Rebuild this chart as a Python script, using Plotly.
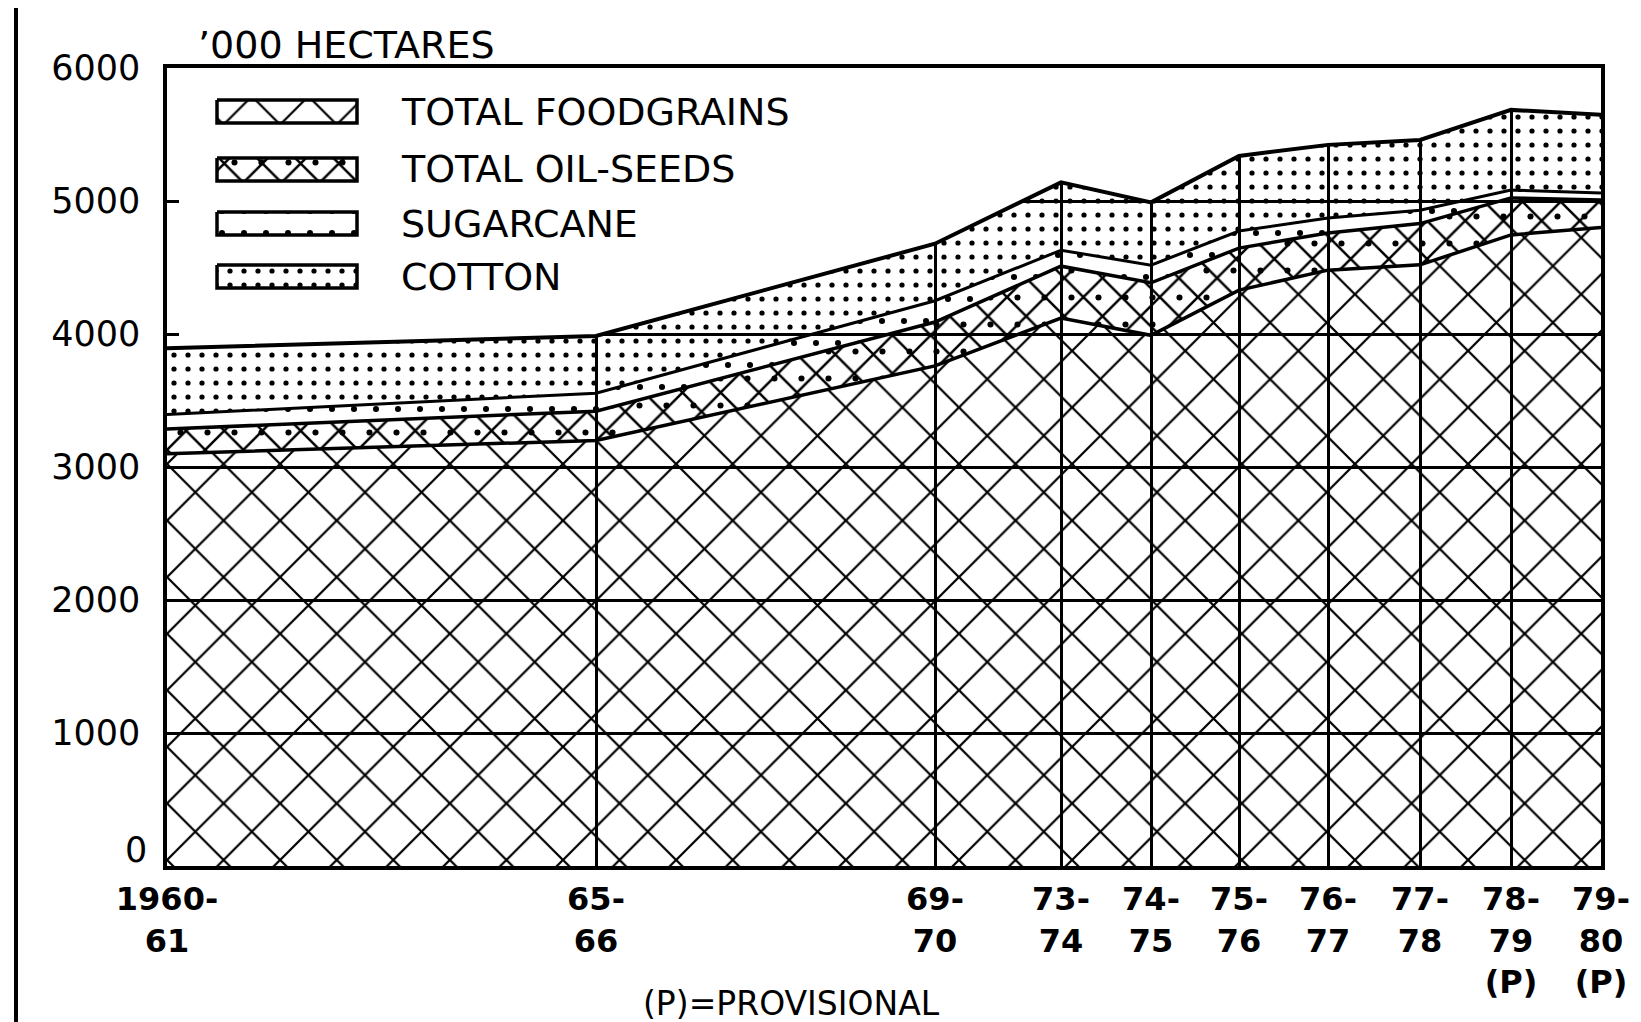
import numpy as np
import plotly.graph_objects as go

# ---------------- data ('000 hectares) ----------------
seasons = ["1960-<br>61", "65-<br>66", "69-<br>70", "73-<br>74", "74-<br>75",
           "75-<br>76", "76-<br>77", "77-<br>78", "78-<br>79<br>(P)", "79-<br>80<br>(P)"]
foodgrains = [3100, 3200, 3760, 4120, 3990, 4330, 4480, 4520, 4745, 4800]
oilseeds = [185, 220, 330, 390, 395, 316, 280, 310, 278, 208]
sugarcane = [110, 135, 160, 120, 133, 128, 112, 100, 60, 52]
cotton = [498, 430, 429, 510, 472, 565, 550, 529, 602, 588]
y_ticks = [0, 1000, 2000, 3000, 4000, 5000, 6000]
legend_labels = ["TOTAL FOODGRAINS", "TOTAL OIL-SEEDS", "SUGARCANE", "COTTON"]

# ---------------- layout helpers ----------------
# uneven horizontal spacing between seasons on the original drawing
season_gaps = [429, 339, 126, 90, 88, 89, 92, 91, 90]
x = np.concatenate([[0], np.cumsum(season_gaps)]).tolist()
y_max = y_ticks[-1]

# plot area in figure pixels
PL, PR, PT, PB = 159, 1593, 60, 858


def px(xp):
    return (xp - PL) / (PR - PL)


def py(yp):
    return (PB - yp) / (PB - PT)


c1 = np.array(foodgrains)
c2 = c1 + np.array(oilseeds)
c3 = c2 + np.array(sugarcane)
c4 = c3 + np.array(cotton)

FONT = "DejaVu Sans"
BLACK = "black"
CLEAR = "rgba(0,0,0,0)"

pat_fg = dict(shape="x", size=40, solidity=0.11, fgcolor=BLACK, bgcolor=CLEAR, fillmode="replace")
pat_os = dict(shape="x", size=27, solidity=0.18, fgcolor=BLACK, bgcolor=CLEAR, fillmode="replace")
pat_os_dot = dict(shape=".", size=27, solidity=0.04, fgcolor=BLACK, bgcolor=CLEAR, fillmode="replace")
pat_sc = dict(shape=".", size=22, solidity=0.06, fgcolor=BLACK, bgcolor=CLEAR, fillmode="replace")
pat_cot = dict(shape=".", size=14, solidity=0.11, fgcolor=BLACK, bgcolor=CLEAR, fillmode="replace")

fig = go.Figure()


def area(y, pattern=None, lw=3.0, fill="tonexty", fillcolor=CLEAR, name=None):
    tr = dict(x=x, y=list(y), mode="lines", line=dict(color=BLACK, width=lw),
              fill=fill, fillcolor=fillcolor, hoverinfo="skip", showlegend=False)
    if pattern is not None:
        tr["fillpattern"] = pattern
    if name:
        tr["name"] = name
    fig.add_trace(go.Scatter(**tr))


area([0] * len(x), lw=0, fill="none")
area(c1, pat_fg, lw=3.5, name="TOTAL FOODGRAINS")
area(c2, pat_os, lw=3.5, name="TOTAL OIL-SEEDS")
area(c1, lw=0, fill="none")
area(c2, pat_os_dot, lw=0)
area(c3, pat_sc, lw=3, name="SUGARCANE")
area(c4, pat_cot, lw=4, name="COTTON")
# white cover above the stacked areas (hides the grid there)
area([y_max] * len(x), lw=0, fillcolor="white")

# ---------------- hand-drawn style legend (pixel coordinates on overlay axes) ----------------
box_x0, box_x1 = 209, 349
rows = [(92, 115), (150, 173), (204, 227), (257, 280)]
box_patterns = [[pat_fg], [pat_os, pat_os_dot], [pat_sc], [pat_cot]]
for (y0, y1), pats in zip(rows, box_patterns):
    for i, p in enumerate(pats):
        fig.add_trace(go.Scatter(
            x=[box_x0, box_x1, box_x1, box_x0, box_x0], y=[y0, y0, y1, y1, y0],
            xaxis="x2", yaxis="y2", mode="lines",
            line=dict(color=BLACK, width=3.5 if i == 0 else 0),
            fill="toself", fillcolor=CLEAR, fillpattern=p,
            hoverinfo="skip", showlegend=False))

annotations = []
for (y0, y1), lab in zip(rows, legend_labels):
    annotations.append(dict(x=px(391), y=py((y0 + y1) / 2), xref="paper", yref="paper", text=lab,
                            showarrow=False, xanchor="left", yanchor="middle",
                            font=dict(family=FONT, size=38, color=BLACK)))
annotations.append(dict(x=px(188), y=py(37), xref="paper", yref="paper", text="’000 HECTARES",
                        showarrow=False, xanchor="left", yanchor="middle",
                        font=dict(family=FONT, size=38, color=BLACK)))
annotations.append(dict(x=px(783), y=py(995), xref="paper", yref="paper", text="(P)=PROVISIONAL",
                        showarrow=False, xanchor="center", yanchor="middle", borderpad=0,
                        font=dict(family=FONT, size=33, color=BLACK)))
# the "0" label sits slightly above the baseline in the original
annotations.append(dict(x=px(141), y=py(842), xref="paper", yref="paper", text=str(y_ticks[0]),
                        showarrow=False, xanchor="right", yanchor="middle",
                        font=dict(family=FONT, size=35, color=BLACK)))

fig.update_layout(
    width=1641, height=1022,
    margin=dict(l=PL, r=1641 - PR, t=PT, b=1022 - PB),
    paper_bgcolor="white", plot_bgcolor="white",
    showlegend=False,
    font=dict(family=FONT, color=BLACK),
    xaxis=dict(range=[0, x[-1]], tickmode="array", tickvals=x, ticktext=seasons,
               showgrid=True, gridcolor=BLACK, gridwidth=2.5, zeroline=False,
               showline=True, mirror=True, linecolor=BLACK, linewidth=3.5,
               ticks="", ticklabelstandoff=2,
               tickfont=dict(family=FONT, size=32, color=BLACK, weight="bold")),
    yaxis=dict(range=[0, y_max], tickmode="array", tickvals=y_ticks,
               ticktext=["" if v == 0 else str(v) for v in y_ticks],
               showgrid=True, gridcolor=BLACK, gridwidth=3, zeroline=False,
               showline=True, mirror=True, linecolor=BLACK, linewidth=3.5,
               ticks="inside", ticklen=12, tickwidth=3, tickcolor=BLACK,
               ticklabelstandoff=16,
               tickfont=dict(family=FONT, size=35, color=BLACK)),
    xaxis2=dict(range=[PL, PR], overlaying="x", visible=False, fixedrange=True),
    yaxis2=dict(range=[PB, PT], overlaying="y", visible=False, fixedrange=True),
    annotations=annotations,
    shapes=[dict(type="line", xref="paper", yref="paper",
                 x0=px(8), x1=px(8), y0=py(1022), y1=py(0),
                 line=dict(color=BLACK, width=4))],
)

fig.write_html("out.html")
